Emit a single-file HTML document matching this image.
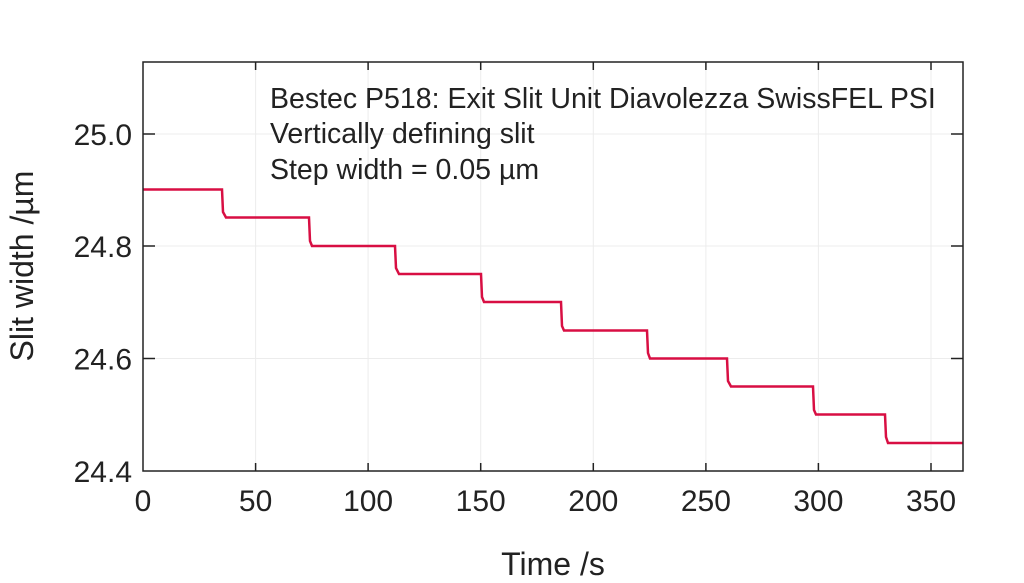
<!DOCTYPE html>
<html><head><meta charset="utf-8"><style>
body{margin:0;background:#fff;}
svg{display:block;font-family:"Liberation Sans",sans-serif;}
</style></head><body>
<svg width="1024" height="583" viewBox="0 0 1024 583">
<g stroke="#ececec" stroke-width="1">
<line x1="255.6" y1="62" x2="255.6" y2="471"/><line x1="368.1" y1="62" x2="368.1" y2="471"/>
<line x1="480.7" y1="62" x2="480.7" y2="471"/><line x1="593.3" y1="62" x2="593.3" y2="471"/>
<line x1="705.9" y1="62" x2="705.9" y2="471"/><line x1="818.4" y1="62" x2="818.4" y2="471"/>
<line x1="931" y1="62" x2="931" y2="471"/>
<line x1="143" y1="134" x2="963" y2="134"/><line x1="143" y1="246" x2="963" y2="246"/>
<line x1="143" y1="358.5" x2="963" y2="358.5"/>
</g>
<polyline fill="none" stroke="#d80f43" stroke-width="2.5" points="143,189.5 222,189.5 223,212 226,217.5 309,217.5 310,241 312,246 395,246 396,268 399,274 481,274 482,297 484,302 561,302 562,326 564,330.5 647,330.5 648,353 650,358.5 727,358.5 728,381 731,386.5 813,386.5 814,410 816,414.5 885,414.5 886,437 888,443 963,443"/>
<rect x="143" y="62" width="820" height="409" fill="none" stroke="#222" stroke-width="1.5"/>
<g stroke="#222" stroke-width="1.5">
<line x1="255.6" y1="471" x2="255.6" y2="463"/><line x1="368.1" y1="471" x2="368.1" y2="463"/>
<line x1="480.7" y1="471" x2="480.7" y2="463"/><line x1="593.3" y1="471" x2="593.3" y2="463"/>
<line x1="705.9" y1="471" x2="705.9" y2="463"/><line x1="818.4" y1="471" x2="818.4" y2="463"/>
<line x1="931" y1="471" x2="931" y2="463"/>
<line x1="255.6" y1="62" x2="255.6" y2="70"/><line x1="368.1" y1="62" x2="368.1" y2="70"/>
<line x1="480.7" y1="62" x2="480.7" y2="70"/><line x1="593.3" y1="62" x2="593.3" y2="70"/>
<line x1="705.9" y1="62" x2="705.9" y2="70"/><line x1="818.4" y1="62" x2="818.4" y2="70"/>
<line x1="931" y1="62" x2="931" y2="70"/>
<line x1="143" y1="134" x2="155" y2="134"/><line x1="143" y1="246" x2="155" y2="246"/><line x1="143" y1="358.5" x2="155" y2="358.5"/>
<line x1="963" y1="134" x2="951" y2="134"/><line x1="963" y1="246" x2="951" y2="246"/><line x1="963" y1="358.5" x2="951" y2="358.5"/>
</g>
<g font-size="30" fill="#222" text-anchor="middle">
<text x="143" y="511">0</text><text x="255.6" y="511">50</text><text x="368.1" y="511">100</text>
<text x="480.7" y="511">150</text><text x="593.3" y="511">200</text><text x="705.9" y="511">250</text>
<text x="818.4" y="511">300</text><text x="931" y="511">350</text>
</g>
<g font-size="30" fill="#222" text-anchor="end">
<text x="132" y="145">25.0</text><text x="132" y="257">24.8</text><text x="132" y="369.5">24.6</text><text x="132" y="482">24.4</text>
</g>
<text x="553" y="575" font-size="32" fill="#222" text-anchor="middle">Time /s</text>
<text transform="translate(33,266) rotate(-90)" font-size="32" fill="#222" text-anchor="middle">Slit width /µm</text>
<g font-size="28.5" fill="#222">
<text x="270" y="108">Bestec P518: Exit Slit Unit Diavolezza SwissFEL PSI</text>
<text x="270" y="143">Vertically defining slit</text>
<text x="270" y="179">Step width = 0.05 µm</text>
</g>
</svg>
</body></html>
